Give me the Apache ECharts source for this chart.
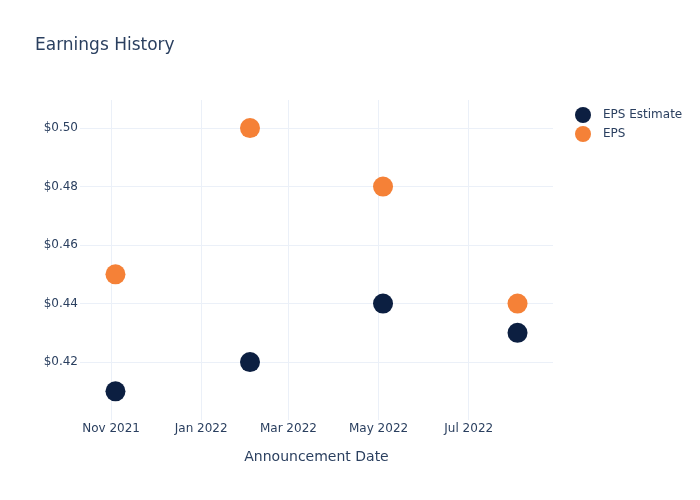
<!DOCTYPE html>
<html>
<head>
<meta charset="utf-8">
<script src="https://cdn.jsdelivr.net/npm/echarts@6/dist/echarts.min.js"></script>
<style>html,body{margin:0;padding:0;background:#fff}#c{width:700px;height:500px}</style>
</head>
<body>
<div id="c"></div>
<script>
var dates = ['2021-11-04', '2022-02-03', '2022-05-04', '2022-08-03'];
var epsEstimate = [0.41, 0.42, 0.44, 0.43];
var eps = [0.45, 0.50, 0.48, 0.44];
var xTickDates = ['2021-11-01', '2022-01-01', '2022-03-01', '2022-05-01', '2022-07-01'];
var xTickLabels = ['Nov 2021', 'Jan 2022', 'Mar 2022', 'May 2022', 'Jul 2022'];
var yTicks = [0.42, 0.44, 0.46, 0.48, 0.50];

function ts(s) { return new Date(s + 'T00:00:00Z').getTime(); }
var xTickTs = xTickDates.map(ts);
var labelMap = {};
xTickTs.forEach(function (t, i) { labelMap[t] = xTickLabels[i]; });

var font = '"DejaVu Sans", sans-serif';
var chart = echarts.init(document.getElementById('c'), null, {renderer: 'canvas'});
chart.setOption({
  animation: false,
  textStyle: {fontFamily: font},
  title: {
    text: 'Earnings History', left: 30, top: 32,
    textStyle: {fontFamily: font, fontSize: 17, fontWeight: 'normal', color: '#2a3f5f'}
  },
  legend: {
    orient: 'vertical', left: 570, top: 102, itemGap: 3,
    icon: 'circle', itemWidth: 16, itemHeight: 16,
    textStyle: {fontFamily: font, fontSize: 12, color: '#2a3f5f', padding: [0, 0, 0, 7]},
    data: ['EPS Estimate', 'EPS']
  },
  grid: {left: 80, right: 147, top: 100, bottom: 80},
  xAxis: {
    type: 'value',
    min: ts('2021-10-11'), max: ts('2022-08-27'),
    name: 'Announcement Date', nameLocation: 'middle', nameGap: 30,
    nameTextStyle: {fontFamily: font, fontSize: 14, color: '#2a3f5f'},
    axisLine: {show: false},
    axisTick: {show: false, customValues: xTickTs},
    splitLine: {show: true, lineStyle: {color: '#ebf0f8', width: 1}},
    axisLabel: {
      customValues: xTickTs, margin: 3,
      fontFamily: font, fontSize: 12, color: '#2a3f5f',
      formatter: function (v) { return labelMap[v] || ''; }
    }
  },
  yAxis: {
    type: 'value', min: 0.4002, max: 0.5096,
    axisLine: {show: false},
    axisTick: {show: false, customValues: yTicks},
    splitLine: {show: true, lineStyle: {color: '#ebf0f8', width: 1}},
    axisLabel: {
      customValues: yTicks, margin: 2,
      fontFamily: font, fontSize: 12, color: '#2a3f5f',
      formatter: function (v) { return '$' + v.toFixed(2); }
    }
  },
  series: [
    {
      name: 'EPS Estimate', type: 'scatter', symbolSize: 20,
      itemStyle: {color: '#0c1f41', opacity: 1},
      data: dates.map(function (d, i) { return [ts(d), epsEstimate[i]]; })
    },
    {
      name: 'EPS', type: 'scatter', symbolSize: 20,
      itemStyle: {color: '#f58137', opacity: 1},
      data: dates.map(function (d, i) { return [ts(d), eps[i]]; })
    }
  ]
});
</script>
</body>
</html>
